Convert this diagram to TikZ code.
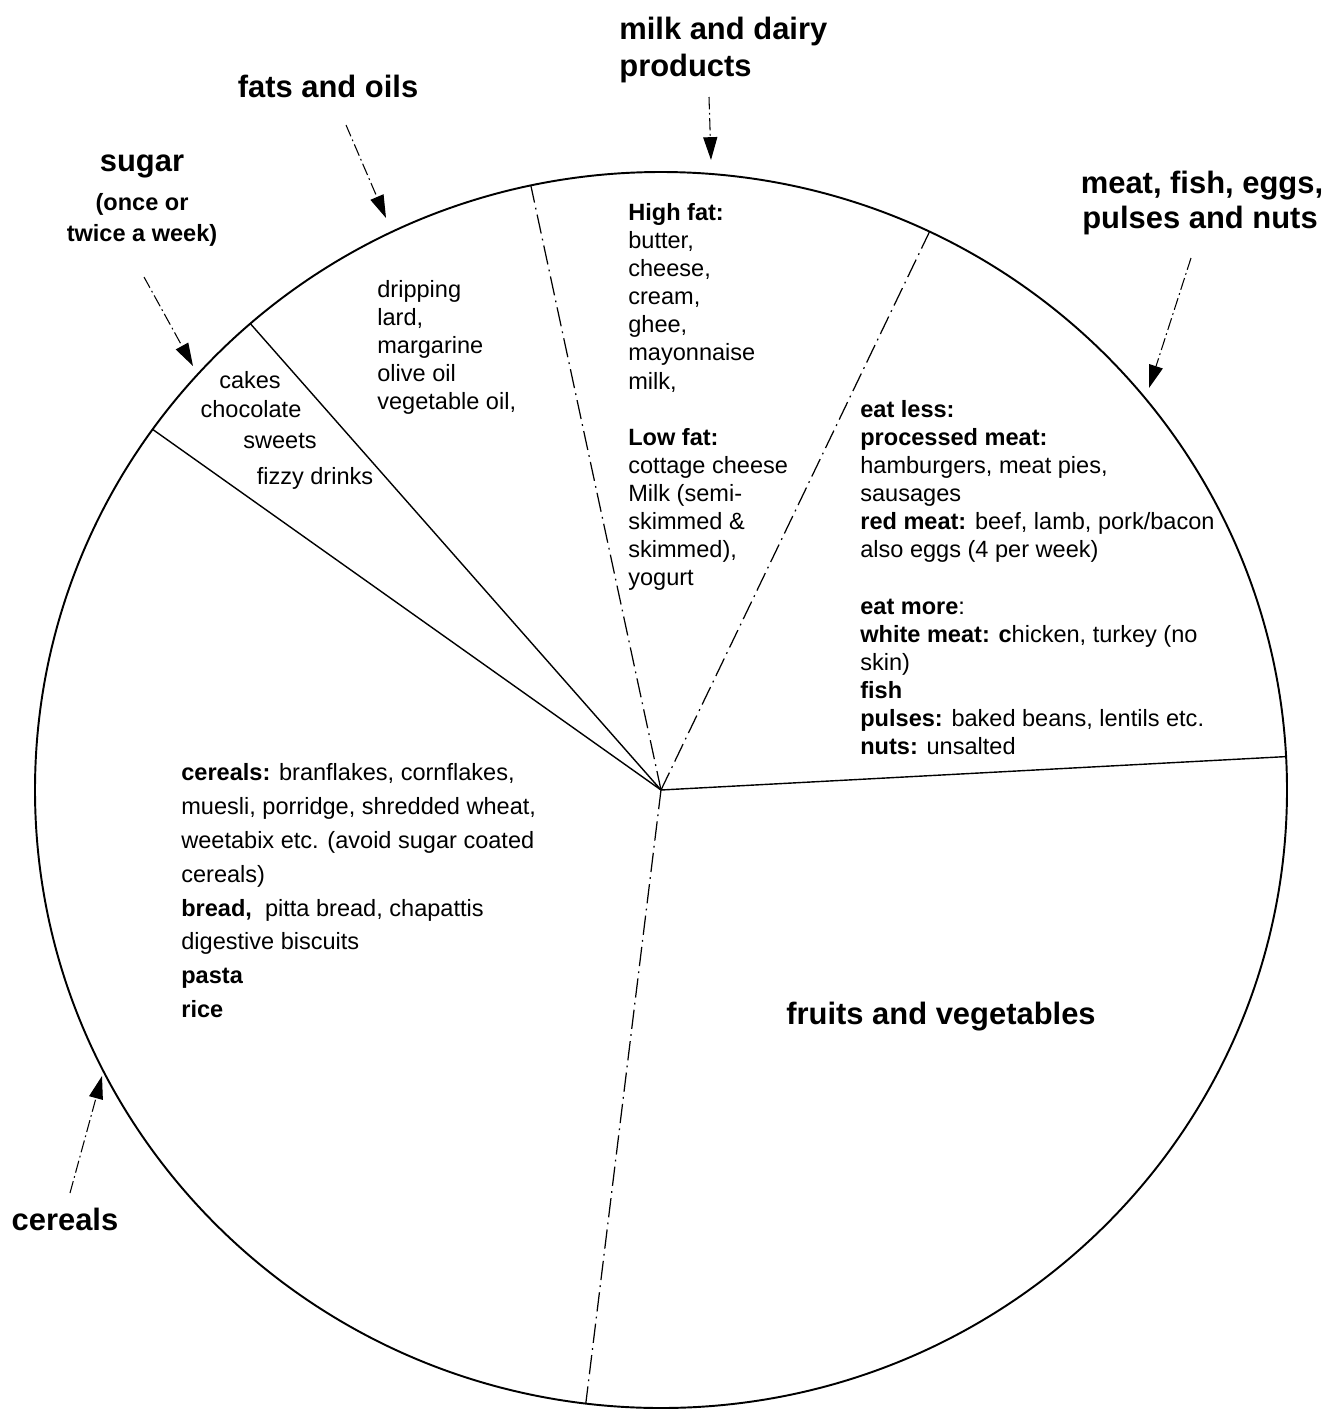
\documentclass[tikz,border=0pt]{standalone}
\usepackage{fontspec}
\setmainfont{Liberation Sans}
\usetikzlibrary{calc,arrows.meta}

\begin{document}
\begin{tikzpicture}[
    x=0.02cm, y=0.02cm,
    rim/.style={line width=1.1pt},
    slice/.style={line width=0.8pt},
    dashslice/.style={line width=0.7pt, dash pattern=on 11pt off 3pt on 1pt off 3pt},
    pointer/.style={line width=0.6pt, dash pattern=on 7pt off 2pt on 1pt off 2pt,
        -{Triangle[length=13pt,width=8pt]}},
    heading/.style={font=\fontsize{17.6}{20}\selectfont\bfseries, inner sep=0, anchor=base},
    subhead/.style={font=\fontsize{13.4}{16}\selectfont\bfseries, inner sep=0, anchor=base},
    item/.style={font=\fontsize{13.4}{16}\selectfont, inner sep=0, anchor=base},
    itemlist/.style={item, align=left, anchor=north west}
]
    \useasboundingbox (0,0) rectangle (1330,-1410);

    % the plate
    \coordinate (O) at (661,-790);
    \draw[rim] (O) ellipse [x radius=626, y radius=618];
    \foreach \n/\a in {sc/144.3, sf/131, fd/102, dm/64.6, mv/3.1, vc/-96.9}
        \coordinate (\n) at ($(O)+(\a:626 and 618)$);
    \foreach \n in {sc, sf, mv} \draw[slice] (O) -- (\n);
    \foreach \n in {fd, dm, vc} \draw[dashslice] (O) -- (\n);

    % group names
    \node[heading, anchor=base west] (dairyA) at (619,-39) {milk and dairy};
    \node[heading, anchor=base west] (dairyB) at (619,-76) {products};
    \node[heading] (fatsH) at (328,-97) {fats and oils};
    \node[heading] (sugarH) at (142,-171) {sugar};
    \node[subhead] (sugarA) at (142,-210) {(once or};
    \node[subhead] (sugarB) at (142,-241) {twice a week)};
    \node[heading] (meatA) at (1202,-193) {meat, fish, eggs,};
    \node[heading] (meatB) at (1200,-228) {pulses and nuts};
    \node[heading] (cerealH) at (65,-1230) {cereals};
    \node[heading] (fruitH) at (941,-1024) {fruits and vegetables};

    % pointers
    \coordinate (S-dairy) at (709,-97);   \coordinate (T-dairy) at (711,-160);
    \coordinate (S-fats) at (346,-125);   \coordinate (T-fats) at (386,-218);
    \coordinate (S-sugar) at (144,-277);  \coordinate (T-sugar) at (193,-366);
    \coordinate (S-meat) at (1191,-258);  \coordinate (T-meat) at (1149,-388);
    \coordinate (S-cereal) at (70,-1193); \coordinate (T-cereal) at (102,-1076);
    \foreach \g in {dairy, fats, sugar, meat, cereal}
        \draw[pointer] (S-\g) -- (T-\g);

    % sugar
    \node[item] (cakes) at (250,-388) {cakes};
    \node[item] (choc) at (251,-417) {chocolate};
    \node[item] (sweets) at (280,-448) {sweets};
    \node[item] (fizzy) at (315,-484) {fizzy drinks};

    % fats and oils
    \node[itemlist] (fatsL) at (377,-280) {dripping\\lard,\\margarine\\olive oil\\vegetable oil,};

    % milk and dairy
    \node[itemlist] (dairyL) at (628,-203) {\textbf{High fat:}\\butter,\\cheese,\\cream,\\ghee,\\
        mayonnaise\\milk,\\[16pt]\textbf{Low fat:}\\cottage cheese\\Milk (semi-\\skimmed \&\\
        skimmed),\\yogurt};

    % meat, fish ...
    \node[itemlist] (meatL) at (860,-400) {\textbf{eat less:}\\\textbf{processed meat:}\\
        hamburgers, meat pies,\\sausages\\\textbf{red meat:} beef, lamb, pork/bacon\\
        also eggs (4 per week)\\[16pt]\textbf{eat more}:\\
        \textbf{white meat: c}hicken, turkey (no\\skin)\\\textbf{fish}\\
        \textbf{pulses:} baked beans, lentils etc.\\\textbf{nuts:} unsalted};

    % cereals
    \node[itemlist, font=\fontsize{13.4}{19.3}\selectfont] (cerealL) at (181,-763)
        {\textbf{cereals:} branflakes, cornflakes,\\muesli, porridge, shredded wheat,\\
        weetabix etc. (avoid sugar coated\\cereals)\\\textbf{bread,}\ \ pitta bread, chapattis\\
        digestive biscuits\\\textbf{pasta}\\\textbf{rice}};
\end{tikzpicture}
\end{document}
